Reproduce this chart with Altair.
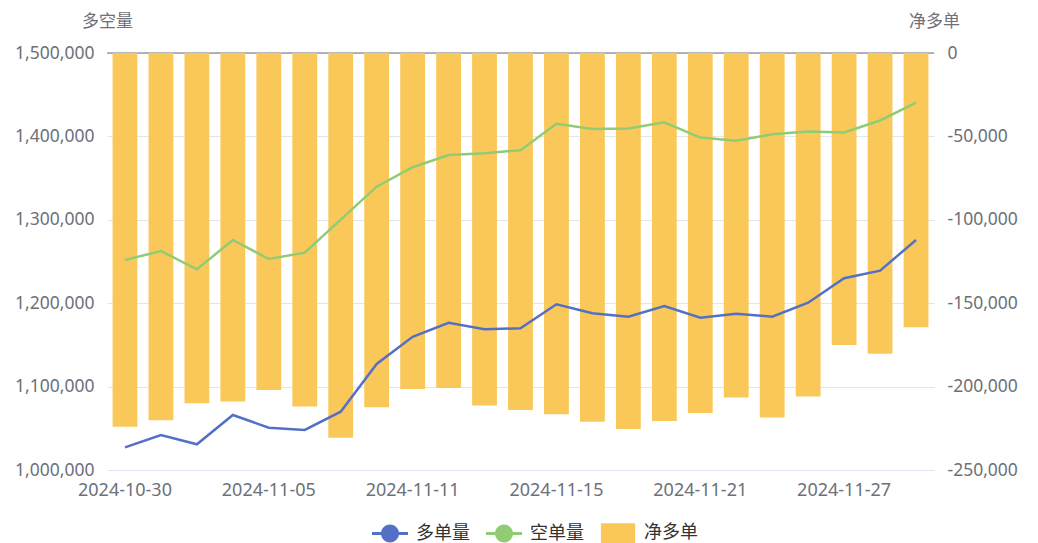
import altair as alt
import pandas as pd

dates = ["2024-10-30", "2024-10-31", "2024-11-01", "2024-11-04", "2024-11-05", "2024-11-06",
         "2024-11-07", "2024-11-08", "2024-11-11", "2024-11-12", "2024-11-13", "2024-11-14",
         "2024-11-15", "2024-11-18", "2024-11-19", "2024-11-20", "2024-11-21", "2024-11-22",
         "2024-11-25", "2024-11-26", "2024-11-27", "2024-11-28", "2024-11-29"]
long_vol = [1027200, 1042000, 1030800, 1066000, 1050700, 1048000, 1069900, 1127100, 1159800,
            1176600, 1168700, 1169900, 1198700, 1187900, 1183900, 1196600, 1182600, 1187400,
            1183900, 1200600, 1229900, 1239000, 1275800]
short_vol = [1251800, 1262600, 1240600, 1275800, 1253000, 1260600, 1300300, 1339700, 1363000,
             1377600, 1379900, 1383400, 1415100, 1409000, 1409500, 1416800, 1398600, 1394800,
             1402500, 1406000, 1404700, 1419100, 1440500]
net_long = [-224000, -220200, -210000, -209000, -202000, -212000, -230600, -212400, -201400,
            -200800, -211400, -214000, -216600, -221000, -225400, -220600, -215800, -206600,
            -218600, -206000, -175000, -180300, -164400]
x_tick_labels = ["2024-10-30", "2024-11-05", "2024-11-11", "2024-11-15", "2024-11-21", "2024-11-27"]
series_names = ["多单量", "空单量", "净多单"]
series_colors = ["#5470c6", "#91cc75", "#fac858"]

FONT = "Noto Sans, Noto Sans CJK SC"
CJK = "Noto Sans CJK SC"
AXIS_GRAY = "#6E7079"

df = pd.DataFrame({"date": dates, "long": long_vol, "short": short_vol, "net": net_long})
legend_df = pd.DataFrame({"series": series_names})

x_enc = alt.X("date:N", sort=dates, title=None,
              scale=alt.Scale(paddingInner=0.31, paddingOuter=0.155),
              axis=alt.Axis(values=x_tick_labels, labelAngle=0, ticks=False, domain=False,
                            labelPadding=11, labelFont=FONT, labelFontSize=18,
                            labelColor=AXIS_GRAY, grid=False, labelOverlap=False))

line_sym = ("M-1,-0.083 H1 V0.083 H-1 Z "
            "M-0.5,0 A0.5,0.5 0 1,1 0.5,0 A0.5,0.5 0 1,1 -0.5,0 Z")
rect_sym = "M-0.95,-0.55 H0.95 V0.55 H-0.95 Z"

right_scale = alt.Scale(domain=[-250000, 0], nice=False, zero=True)
right_axis = alt.Axis(orient="right", values=[0, -50000, -100000, -150000, -200000, -250000],
                      format=",d", labelExpr="replace(datum.label, '−', '-')",
                      ticks=False, domain=False, grid=False, labelPadding=13,
                      labelFont=FONT, labelFontSize=17.5, labelColor=AXIS_GRAY,
                      title="净多单", titleAngle=0, titleX=0, titleY=-32, titleAlign="center",
                      titleBaseline="middle", titleFont=CJK, titleFontSize=17,
                      titleFontWeight="normal", titleColor=AXIS_GRAY)

left_scale = alt.Scale(domain=[1000000, 1500000], nice=False, zero=False)
left_axis = alt.Axis(orient="left", values=[1000000, 1100000, 1200000, 1300000, 1400000, 1500000],
                     format=",d", ticks=False, domain=False, grid=True, gridColor="#E0E6F1",
                     gridWidth=1, labelPadding=13, labelFont=FONT, labelFontSize=17.5,
                     labelColor=AXIS_GRAY,
                     title="多空量", titleAngle=0, titleX=0, titleY=-32, titleAlign="center",
                     titleBaseline="middle", titleFont=CJK, titleFontSize=17,
                     titleFontWeight="normal", titleColor=AXIS_GRAY)

base = alt.Chart(df)

rule = base.mark_rule(color=AXIS_GRAY, strokeWidth=1).encode(
    y=alt.YDatum(0, type="quantitative", scale=right_scale, axis=right_axis)
).transform_filter(alt.datum.date == dates[0])
bars = base.mark_bar(color=series_colors[2]).encode(
    x=x_enc,
    y=alt.Y("net:Q", scale=right_scale, axis=right_axis),
)
bar_group = alt.layer(rule, bars)

long_line = base.mark_line(strokeWidth=2.5, color=series_colors[0]).encode(
    x=x_enc, y=alt.Y("long:Q", scale=left_scale, axis=left_axis))
short_line = base.mark_line(strokeWidth=2.5, color=series_colors[1]).encode(
    x=x_enc, y=alt.Y("short:Q", scale=left_scale, axis=left_axis))
line_group = alt.layer(long_line, short_line)

legend_pts = alt.Chart(legend_df).mark_point(filled=True, opacity=1).encode(
    color=alt.Color("series:N", scale=alt.Scale(domain=series_names, range=series_colors),
                    legend=alt.Legend(title=None, orient="none", direction="horizontal",
                                      legendX=265, legendY=462, padding=0,
                                      symbolSize=1296, symbolStrokeWidth=0, symbolOpacity=1,
                                      labelFont=CJK, labelFontSize=18, labelColor="#333333",
                                      labelOffset=8, columnPadding=16)),
    shape=alt.Shape("series:N", scale=alt.Scale(domain=series_names,
                                                range=[line_sym, line_sym, rect_sym])),
).transform_filter("false")

chart = alt.layer(bar_group, line_group, legend_pts).resolve_scale(y="independent").properties(
    width=827, height=417,
    autosize=alt.AutoSizeParams(type="none"),
    padding={"left": 99, "top": 45, "right": 96, "bottom": 73},
    background="white",
).configure_view(stroke=None)

chart.save("out.html", embed_options={"renderer": "svg", "actions": False})
